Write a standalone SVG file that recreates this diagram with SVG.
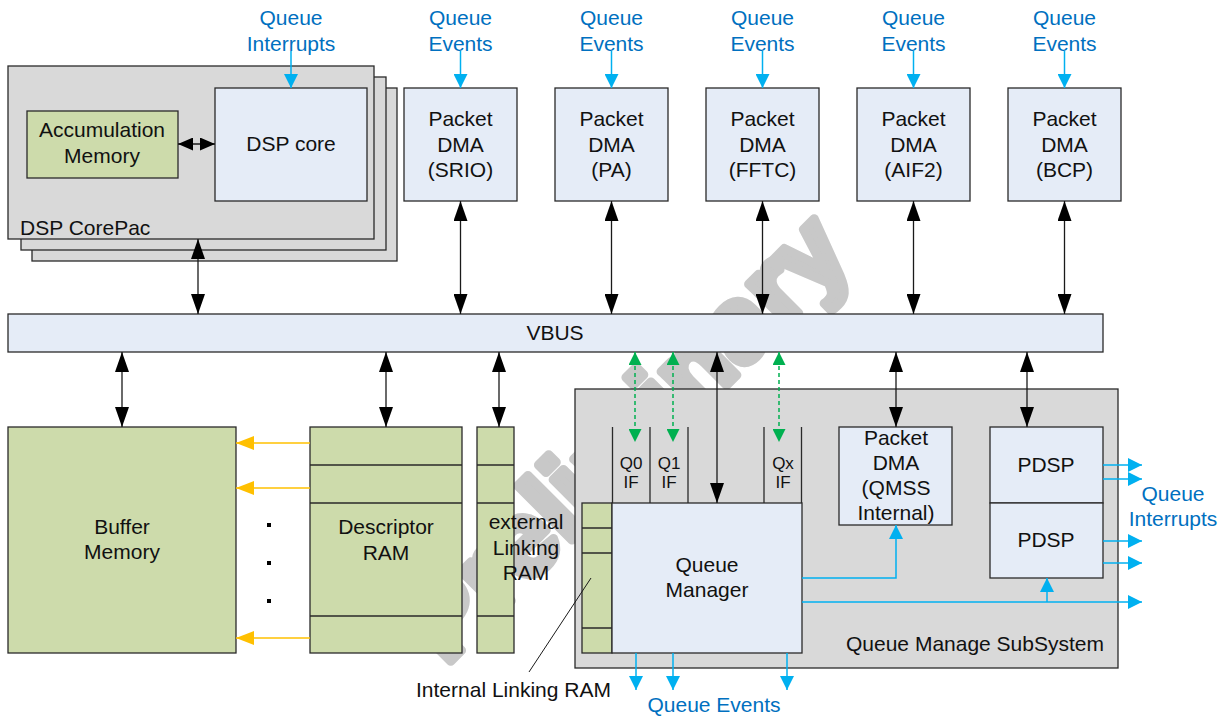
<svg xmlns="http://www.w3.org/2000/svg" width="1225" height="717" viewBox="0 0 1225 717">
  <defs>
    <style>
      text { font-family: "Liberation Sans", Arial, sans-serif; font-size: 21px; fill: #111; }
      .lbl { text-anchor: middle; }
      .blue { fill: #0070c0; text-anchor: middle; }
      .small { font-size: 17px; text-anchor: middle; }
      .box { stroke: #2a2a2a; stroke-width: 1.3; }
      .grey { fill: #d9d9d9; }
      .lb { fill: #e5ecf7; }
      .gr { fill: #cddbab; }
      .div { stroke: #2a2a2a; stroke-width: 1.3; fill: none; }
      .blk { stroke: #1a1a1a; stroke-width: 1.3; fill: none; marker-start: url(#aBlk); marker-end: url(#aBlk); }
      .cy { stroke: #00b0f0; stroke-width: 1.5; fill: none; }
      .cyA { marker-end: url(#aCy); }
      .gd { stroke: #00b050; stroke-width: 1.5; stroke-dasharray: 4 3; fill: none; marker-start: url(#aGr); marker-end: url(#aGr); }
      .or { stroke: #ffc000; stroke-width: 1.5; fill: none; marker-end: url(#aOr); }
      .wm { font-size: 106px; font-weight: bold; fill: #c8c8c8; stroke: #c8c8c8; stroke-width: 9; stroke-linejoin: round; text-anchor: middle; }
    </style>
    <marker id="aBlk" viewBox="0 0 20 14" refX="20" refY="7" markerWidth="20" markerHeight="14" markerUnits="userSpaceOnUse" orient="auto-start-reverse">
      <path d="M0,0 L20,7 L0,14 z" fill="#000"/>
    </marker>
    <marker id="aSm" viewBox="0 0 15 13" refX="15" refY="6.5" markerWidth="15" markerHeight="13" markerUnits="userSpaceOnUse" orient="auto-start-reverse">
      <path d="M0,0 L15,6.5 L0,13 z" fill="#000"/>
    </marker>
    <marker id="aCy" viewBox="0 0 14 14" refX="14" refY="7" markerWidth="14" markerHeight="14" markerUnits="userSpaceOnUse" orient="auto">
      <path d="M0,0 L14,7 L0,14 z" fill="#00b0f0"/>
    </marker>
    <marker id="aGr" viewBox="0 0 13 13" refX="13" refY="6.5" markerWidth="13" markerHeight="13" markerUnits="userSpaceOnUse" orient="auto-start-reverse">
      <path d="M0,0 L13,6.5 L0,13 z" fill="#00b050"/>
    </marker>
    <marker id="aOr" viewBox="0 0 18 14" refX="18" refY="7" markerWidth="18" markerHeight="14" markerUnits="userSpaceOnUse" orient="auto">
      <path d="M0,0 L18,7 L0,14 z" fill="#ffc000"/>
    </marker>
  </defs>

  <rect width="1225" height="717" fill="#fff"/>

  <!-- watermark -->
  <text class="wm" x="650" y="462" transform="rotate(-45 650 462)">Preliminary</text>

  <!-- DSP CorePac stack -->
  <g id="dsp-corepac">
    <rect class="box grey" x="32" y="88" width="365" height="173"/>
    <rect class="box grey" x="21" y="77" width="365" height="173"/>
    <rect class="box grey" x="8" y="66" width="366" height="173"/>
    <text x="20" y="235">DSP CorePac</text>
  </g>
  <g id="accumulation-memory">
    <rect class="box gr" x="27" y="111" width="151" height="67"/>
    <text class="lbl" x="102" y="137">Accumulation</text>
    <text class="lbl" x="102" y="163">Memory</text>
  </g>
  <g id="dsp-core">
    <rect class="box lb" x="215" y="88" width="152" height="113"/>
    <text class="lbl" x="291" y="151">DSP core</text>
  </g>

  <!-- top Packet DMA blocks -->
  <g id="pdma-srio">
    <rect class="box lb" x="404" y="88" width="113" height="113"/>
    <text class="lbl" x="460.5" y="126">Packet</text>
    <text class="lbl" x="460.5" y="152">DMA</text>
    <text class="lbl" x="460.5" y="177">(SRIO)</text>
  </g>
  <g id="pdma-pa">
    <rect class="box lb" x="555" y="88" width="113" height="113"/>
    <text class="lbl" x="611.5" y="126">Packet</text>
    <text class="lbl" x="611.5" y="152">DMA</text>
    <text class="lbl" x="611.5" y="177">(PA)</text>
  </g>
  <g id="pdma-fftc">
    <rect class="box lb" x="706" y="88" width="113" height="113"/>
    <text class="lbl" x="762.5" y="126">Packet</text>
    <text class="lbl" x="762.5" y="152">DMA</text>
    <text class="lbl" x="762.5" y="177">(FFTC)</text>
  </g>
  <g id="pdma-aif2">
    <rect class="box lb" x="857" y="88" width="113" height="113"/>
    <text class="lbl" x="913.5" y="126">Packet</text>
    <text class="lbl" x="913.5" y="152">DMA</text>
    <text class="lbl" x="913.5" y="177">(AIF2)</text>
  </g>
  <g id="pdma-bcp">
    <rect class="box lb" x="1008" y="88" width="113" height="113"/>
    <text class="lbl" x="1064.5" y="126">Packet</text>
    <text class="lbl" x="1064.5" y="152">DMA</text>
    <text class="lbl" x="1064.5" y="177">(BCP)</text>
  </g>

  <!-- bus -->
  <g id="vbus">
    <rect class="box lb" x="8" y="314" width="1095" height="38"/>
    <text class="lbl" x="555" y="340">VBUS</text>
  </g>

  <!-- memories -->
  <g id="buffer-memory">
    <rect class="box gr" x="8" y="427" width="228" height="226"/>
    <text class="lbl" x="122" y="534">Buffer</text>
    <text class="lbl" x="122" y="559">Memory</text>
  </g>
  <g id="ellipsis">
    <rect x="267" y="523" width="4" height="4" fill="#000"/>
    <rect x="267" y="561" width="4" height="4" fill="#000"/>
    <rect x="267" y="599" width="4" height="4" fill="#000"/>
  </g>
  <g id="descriptor-ram">
    <rect class="box gr" x="310" y="427" width="152" height="226"/>
    <path class="div" d="M310,465 H462 M310,503 H462 M310,616 H462"/>
    <text class="lbl" x="386" y="534">Descriptor</text>
    <text class="lbl" x="386" y="560">RAM</text>
  </g>
  <g id="external-linking-ram">
    <rect class="box gr" x="477" y="427" width="37" height="226"/>
    <path class="div" d="M477,465 H514 M477,503 H514 M477,616 H514"/>
    <text class="lbl" x="526" y="529">external</text>
    <text class="lbl" x="526" y="555">Linking</text>
    <text class="lbl" x="526" y="580">RAM</text>
  </g>

  <!-- Queue Manage SubSystem -->
  <g id="qmss">
    <rect class="box grey" x="575" y="389" width="543" height="279"/>
    <text x="846" y="651">Queue Manage SubSystem</text>
  </g>
  <g id="queue-interfaces">
    <path class="div" d="M612.5,427 V503 M650,427 V503 M688,427 V503 M764,427 V503 M801.5,427 V503"/>
    <text class="small" x="631" y="469">Q0</text>
    <text class="small" x="631" y="488">IF</text>
    <text class="small" x="669" y="469">Q1</text>
    <text class="small" x="669" y="488">IF</text>
    <text class="small" x="783" y="469">Qx</text>
    <text class="small" x="783" y="488">IF</text>
  </g>
  <g id="internal-linking-ram">
    <rect class="box gr" x="582" y="503" width="30" height="150"/>
    <path class="div" d="M582,528 H612 M582,553 H612 M582,628 H612"/>
  </g>
  <g id="queue-manager">
    <rect class="box lb" x="612" y="503" width="190" height="150"/>
    <text class="lbl" x="707" y="572">Queue</text>
    <text class="lbl" x="707" y="597">Manager</text>
  </g>
  <g id="pdma-qmss">
    <rect class="box lb" x="839" y="427" width="113" height="98"/>
    <text class="lbl" x="896" y="445">Packet</text>
    <text class="lbl" x="896" y="470">DMA</text>
    <text class="lbl" x="896" y="495">(QMSS</text>
    <text class="lbl" x="896" y="520">Internal)</text>
  </g>
  <g id="pdsp">
    <rect class="box lb" x="990" y="427" width="113" height="76"/>
    <rect class="box lb" x="990" y="503" width="113" height="75"/>
    <text class="lbl" x="1046" y="472">PDSP</text>
    <text class="lbl" x="1046" y="547">PDSP</text>
  </g>

  <!-- connectors -->
  <g id="connectors">
    <!-- bus links -->
    <path class="blk" d="M198,239 V314"/>
    <path class="blk" d="M460.5,201 V314"/>
    <path class="blk" d="M611.5,201 V314"/>
    <path class="blk" d="M762.5,201 V314"/>
    <path class="blk" d="M913.5,201 V314"/>
    <path class="blk" d="M1064.5,201 V314"/>
    <path class="blk" d="M122,352 V427"/>
    <path class="blk" d="M386,352 V427"/>
    <path class="blk" d="M499,352 V427"/>
    <path class="blk" d="M717,352 V503"/>
    <path class="blk" d="M896,352 V427"/>
    <path class="blk" d="M1027,352 V427"/>
    <path d="M178,144 H215" stroke="#1a1a1a" stroke-width="1.3" fill="none" marker-start="url(#aSm)" marker-end="url(#aSm)"/>

    <!-- queue interface links -->
    <path class="gd" d="M635,352 V442"/>
    <path class="gd" d="M673,352 V442"/>
    <path class="gd" d="M779,352 V442"/>

    <!-- descriptor to buffer pointers -->
    <path class="or" d="M310,443 H236"/>
    <path class="or" d="M310,488 H236"/>
    <path class="or" d="M310,638 H236"/>

    <!-- queue events / interrupts in -->
    <path class="cy cyA" d="M291,51 V88"/>
    <path class="cy cyA" d="M460.5,51 V88"/>
    <path class="cy cyA" d="M611.5,51 V88"/>
    <path class="cy cyA" d="M762.5,51 V88"/>
    <path class="cy cyA" d="M913.5,51 V88"/>
    <path class="cy cyA" d="M1064.5,51 V88"/>

    <!-- queue manager outputs -->
    <path class="cy cyA" d="M636,653 V690"/>
    <path class="cy cyA" d="M673,653 V690"/>
    <path class="cy cyA" d="M787,653 V690"/>
    <path class="cy cyA" d="M802,578 H896 V525"/>
    <path class="cy cyA" d="M802,602 H1142"/>
    <path class="cy cyA" d="M1047,602 V578"/>

    <!-- PDSP interrupt outputs -->
    <path class="cy cyA" d="M1103,465 H1142"/>
    <path class="cy cyA" d="M1103,479 H1142"/>
    <path class="cy cyA" d="M1103,541 H1142"/>
    <path class="cy cyA" d="M1103,563 H1142"/>

    <!-- internal linking RAM callout -->
    <path d="M591,578 L529,672" stroke="#1a1a1a" stroke-width="1" fill="none"/>
  </g>

  <!-- free labels -->
  <g id="labels">
    <text class="blue" x="291" y="25">Queue</text>
    <text class="blue" x="291" y="51">Interrupts</text>
    <text class="blue" x="460.5" y="25">Queue</text>
    <text class="blue" x="460.5" y="51">Events</text>
    <text class="blue" x="611.5" y="25">Queue</text>
    <text class="blue" x="611.5" y="51">Events</text>
    <text class="blue" x="762.5" y="25">Queue</text>
    <text class="blue" x="762.5" y="51">Events</text>
    <text class="blue" x="913.5" y="25">Queue</text>
    <text class="blue" x="913.5" y="51">Events</text>
    <text class="blue" x="1064.5" y="25">Queue</text>
    <text class="blue" x="1064.5" y="51">Events</text>
    <text class="blue" x="1173" y="501">Queue</text>
    <text class="blue" x="1173" y="526">Interrupts</text>
    <text class="blue" x="714" y="712">Queue Events</text>
    <text x="416" y="697">Internal Linking RAM</text>
  </g>
</svg>
